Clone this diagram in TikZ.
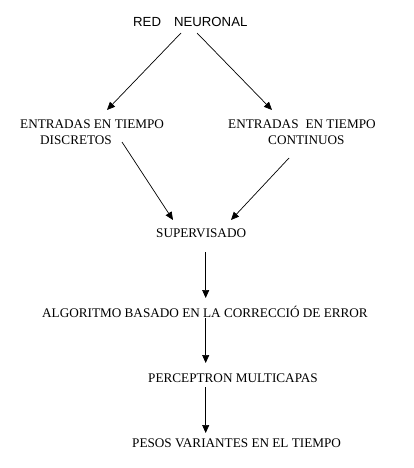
\documentclass[tikz,border=0pt]{standalone}
\usepackage{fontspec}
\setmainfont{Liberation Serif}
\newfontfamily\arialfont{Liberation Sans}
\usetikzlibrary{arrows.meta}
\begin{document}
\begin{tikzpicture}[x=1pt,y=-1pt,
  lbl/.style={inner sep=0pt, font=\fontsize{13.2}{15}\selectfont, anchor=base west},
  arr/.style={-{Triangle[length=8pt,width=7pt]}, line width=0.7pt}]
\useasboundingbox (0,0) rectangle (414,468);
\node[lbl, font=\fontsize{13.2}{15}\arialfont] (red) at (133,26.5) {RED\hspace{13pt}NEURONAL};
\node[lbl] (ent1a) at (20,128.5) {ENTRADAS EN TIEMPO};
\node[lbl] (ent1b) at (40,144) {DISCRETOS};
\node[lbl] (ent2a) at (228,128.5) {ENTRADAS\hspace{7pt}EN TIEMPO};
\node[lbl] (ent2b) at (268,144) {CONTINUOS};
\node[lbl] (sup) at (156,237.5) {SUPERVISADO};
\node[lbl] (alg) at (42,317) {ALGORITMO BASADO EN LA CORRECCIÓ DE ERROR};
\node[lbl] (perc) at (148,382) {PERCEPTRON MULTICAPAS};
\node[lbl] (pesos) at (132,447) {PESOS VARIANTES EN EL TIEMPO};
\draw[arr] ([shift={(48,6.5)}]red.base west) -- ([shift={(87,-18.5)}]ent1a.base west);
\draw[arr] ([shift={(64,6.5)}]red.base west) -- ([shift={(44,-18.5)}]ent2a.base west);
\draw[arr] ([shift={(82,-2)}]ent1b.base west) -- ([shift={(17,-17.5)}]sup.base west);
\draw[arr] ([shift={(21,14)}]ent2b.base west) -- ([shift={(75,-17.5)}]sup.base west);
\draw[arr] ([shift={(49.7,14.5)}]sup.base west) -- ([shift={(163.7,-19)}]alg.base west);
\draw[arr] ([shift={(163.7,1)}]alg.base west) -- ([shift={(57.7,-19)}]perc.base west);
\draw[arr] ([shift={(57.7,5)}]perc.base west) -- ([shift={(73.7,-14)}]pesos.base west);
\end{tikzpicture}
\end{document}
